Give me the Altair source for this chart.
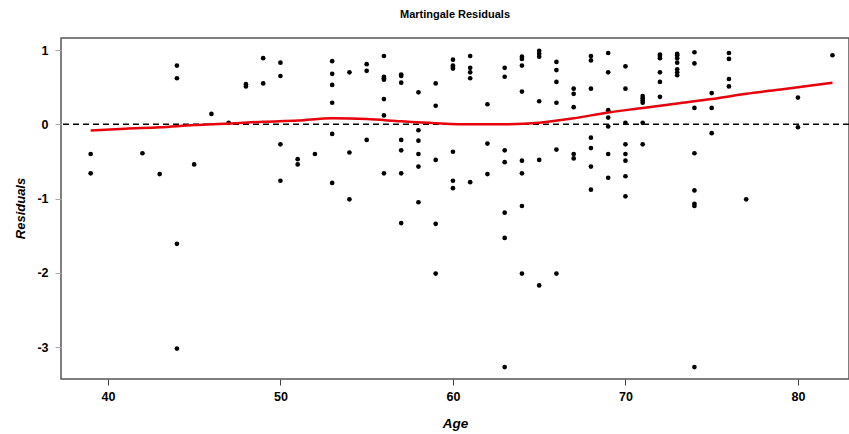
import altair as alt
import pandas as pd

# Age of each patient and its martingale residual
ages = (
    [39, 39, 42, 43, 44, 44, 44, 44, 45, 46, 47, 48, 48, 49, 49]
    + [50] * 4 + [51] * 2 + [52] + [53] * 6 + [54] * 3 + [55] * 3
    + [56] * 7 + [57] * 7 + [58] * 6 + [59] * 5 + [60] * 7 + [61] * 5
    + [62] * 3 + [63] * 7 + [64] * 8 + [65] * 6 + [66] * 6 + [67] * 5
    + [68] * 7 + [69] * 7 + [70] * 8 + [71] * 6 + [72] * 6 + [73] * 7
    + [74] * 8 + [75] * 3 + [76] * 4 + [77] + [80] * 2 + [82]
)
residuals = [
    -0.40, -0.66, -0.39, -0.67, 0.79, 0.62, -1.61, -3.02, -0.54, 0.14, 0.02, 0.54, 0.51, 0.89, 0.55,
    0.83, 0.65, -0.27, -0.76,
    -0.47, -0.54,
    -0.40,
    0.85, 0.68, 0.53, 0.29, -0.13, -0.79,
    0.70, -0.38, -1.01,
    0.81, 0.72, -0.21,
    0.92, 0.64, 0.62, 0.60, 0.34, 0.12, -0.66,
    0.67, 0.65, 0.56, -0.21, -0.35, -0.66, -1.33,
    0.43, -0.08, -0.22, -0.40, -0.57, -1.05,
    0.55, 0.25, -0.48, -1.34, -2.01,
    0.87, 0.79, 0.77, 0.75, -0.37, -0.76, -0.86,
    0.92, 0.76, 0.70, 0.62, -0.78,
    0.27, -0.26, -0.67,
    0.76, 0.64, -0.35, -0.51, -1.19, -1.53, -3.27,
    0.91, 0.88, 0.79, 0.44, -0.49, -0.66, -1.10, -2.01,
    0.99, 0.95, 0.91, 0.31, -0.48, -2.17,
    0.84, 0.73, 0.57, 0.29, -0.34, -2.01,
    0.48, 0.41, 0.23, -0.40, -0.46,
    0.92, 0.86, 0.48, -0.18, -0.32, -0.57, -0.88,
    0.96, 0.70, 0.19, 0.09, -0.03, -0.40, -0.72,
    0.78, 0.48, 0.02, -0.27, -0.40, -0.49, -0.70, -0.97,
    0.38, 0.35, 0.32, 0.29, 0.02, -0.27,
    0.94, 0.92, 0.89, 0.70, 0.57, 0.37,
    0.95, 0.93, 0.89, 0.83, 0.74, 0.70, 0.66,
    0.97, 0.82, 0.22, -0.39, -0.89, -1.07, -1.10, -3.27,
    0.42, 0.22, -0.12,
    0.96, 0.88, 0.61, 0.51,
    -1.01,
    0.36, -0.04,
    0.93,
]

# Smoothed (lowess) curve
smooth_age = [39, 41, 43, 45, 47, 49, 51, 53, 55, 57, 59, 61, 63, 65, 67, 69, 71, 73, 75, 77, 79, 82]
smooth_fit = [-0.085, -0.06, -0.04, -0.01, 0.01, 0.035, 0.05, 0.08, 0.07, 0.04, 0.015, 0.0, 0.0,
              0.02, 0.08, 0.16, 0.22, 0.28, 0.34, 0.41, 0.47, 0.56]

x_ticks = [40, 50, 60, 70, 80]
y_ticks = [-3, -2, -1, 0, 1]

pts = pd.DataFrame({"Age": ages, "Residual": residuals})
smooth = pd.DataFrame({"Age": smooth_age, "Fit": smooth_fit})
zero = pd.DataFrame({"y": [0]})

FONT = "Liberation Sans"
x_scale = alt.Scale(domain=[37.28, 82.96], nice=False, zero=False)
y_scale = alt.Scale(domain=[-3.43, 1.162], nice=False, zero=False)

x_axis = alt.Axis(
    values=x_ticks, title="Age", grid=False, domain=False,
    tickColor="#444", tickSize=6, labelPadding=5,
    labelExpr="toString(datum.value)",
    labelFont=FONT, labelFontSize=12.5, labelFontWeight="bold", labelColor="#000",
    titleFont=FONT, titleFontSize=13.5, titleFontWeight="bold", titleFontStyle="italic",
    titleColor="#000", titlePadding=14,
)
y_axis = alt.Axis(
    values=y_ticks, title="Residuals", grid=False, domain=False,
    tickColor="#aaa", tickSize=6, labelPadding=7, labelAngle=0,
    labelExpr="toString(datum.value)",
    labelFont=FONT, labelFontSize=12.5, labelFontWeight="bold", labelColor="#000",
    titleFont=FONT, titleFontSize=13, titleFontWeight="bold", titleFontStyle="italic",
    titleColor="#000", titleX=-41, titleY=170, titleAngle=-90,
    titleAlign="center", titleBaseline="middle",
)

points = alt.Chart(pts).mark_circle(size=22, color="black", opacity=1).encode(
    x=alt.X("Age:Q", scale=x_scale, axis=x_axis),
    y=alt.Y("Residual:Q", scale=y_scale, axis=y_axis),
)

zero_line = alt.Chart(zero).mark_rule(color="black", strokeWidth=1.5, strokeDash=[6, 4]).encode(
    y=alt.Y("y:Q", scale=y_scale),
)

curve = alt.Chart(smooth).mark_line(color="#e8000b", strokeWidth=2.5, interpolate="monotone").encode(
    x=alt.X("Age:Q", scale=x_scale),
    y=alt.Y("Fit:Q", scale=y_scale),
)

chart = (
    alt.layer(points, zero_line, curve)
    .properties(
        width=788,
        height=341,
        title=alt.TitleParams(
            "Martingale Residuals", font=FONT, fontSize=11, fontWeight="bold",
            color="#000", anchor="middle", offset=18,
        ),
        padding={"left": 61, "top": 38, "right": 0, "bottom": 55},
        autosize=alt.AutoSizeParams(type="none"),
        background="white",
    )
    .configure_view(stroke="#555", strokeWidth=1.5)
)

chart.save("out.html", embed_options={"renderer": "svg", "actions": False})
